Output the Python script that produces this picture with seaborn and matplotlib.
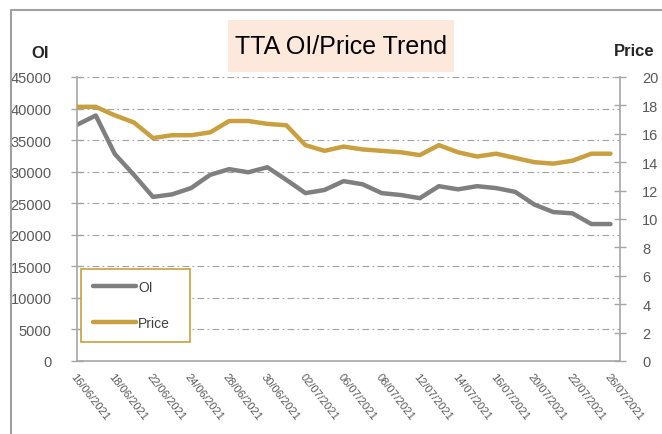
import pandas as pd
import matplotlib.pyplot as plt
import matplotlib.patches as mpatches
from matplotlib.lines import Line2D
import seaborn as sns

dates = ['16/06/2021', '17/06/2021', '18/06/2021', '21/06/2021', '22/06/2021', '23/06/2021',
         '24/06/2021', '25/06/2021', '28/06/2021', '29/06/2021', '30/06/2021', '01/07/2021',
         '02/07/2021', '05/07/2021', '06/07/2021', '07/07/2021', '08/07/2021', '09/07/2021',
         '12/07/2021', '13/07/2021', '14/07/2021', '15/07/2021', '16/07/2021', '19/07/2021',
         '20/07/2021', '21/07/2021', '22/07/2021', '23/07/2021', '26/07/2021']
oi = [37400, 38900, 32800, 29500, 26000, 26400, 27400, 29500, 30400, 29900, 30700, 28700,
      26600, 27100, 28500, 28000, 26600, 26300, 25800, 27700, 27200, 27700, 27400, 26800,
      24800, 23600, 23400, 21700, 21700]
price = [17.9, 17.9, 17.3, 16.8, 15.7, 15.9, 15.9, 16.1, 16.9, 16.9, 16.7, 16.6,
         15.2, 14.8, 15.1, 14.9, 14.8, 14.7, 14.5, 15.2, 14.7, 14.4, 14.6, 14.3,
         14.0, 13.9, 14.1, 14.6, 14.6]
oi_ticks = list(range(0, 45001, 5000))
price_ticks = list(range(0, 21, 2))

df = pd.DataFrame({'idx': range(len(dates)), 'date': dates, 'OI': oi, 'Price': price})

sns.set_style('white')
plt.rcParams['font.family'] = ['Liberation Sans', 'DejaVu Sans']

grey = '#7f7f7f'
gold = '#c9a040'
txt = '#595959'
axc = '#a6a6a6'

fig = plt.figure(figsize=(6.62, 4.35), dpi=100)
ax = fig.add_axes([76.7/662, 1-362/435, (620-76.7)/662, (362-78)/435])
ax2 = ax.twinx()

sns.lineplot(data=df, x='idx', y='OI', ax=ax, color=grey, linewidth=3.2, label='OI', legend=False)
sns.lineplot(data=df, x='idx', y='Price', ax=ax2, color=gold, linewidth=3.2, label='Price', legend=False)

ax.set_xlim(0, 28.5)
ax.set_ylim(0, 45000)
ax2.set_ylim(0, 20)
ax.set_yticks(oi_ticks)
ax.set_yticklabels([str(v) for v in oi_ticks], color=txt, fontsize=10.5)
ax2.set_yticks(price_ticks)
ax2.set_yticklabels([str(v) for v in price_ticks], color=txt, fontsize=10.5)
ax.set_xticks(range(len(dates)))
ax.set_xticklabels([d if i % 2 == 0 else '' for i, d in enumerate(dates)],
                   rotation=-52, ha='left', va='top', rotation_mode='anchor',
                   fontsize=8, color=txt)
ax.set_xlabel('')
ax.set_ylabel('')
ax2.set_ylabel('')

ax.tick_params(axis='y', direction='inout', length=8, width=1, color=axc, pad=14)
ax2.tick_params(axis='y', direction='inout', length=8, width=1, color=axc, pad=12)
ax.tick_params(axis='x', direction='out', length=4, width=1, color=axc, pad=3)

ax.yaxis.grid(True, color='#a0a0a0', linewidth=0.8, linestyle=(0, (6, 3, 1.5, 3)))
ax.xaxis.grid(False)
for s in ['top', 'right']:
    ax.spines[s].set_visible(False)
for s in ['top', 'left', 'bottom']:
    ax2.spines[s].set_visible(False)
for a, s in [(ax, 'left'), (ax, 'bottom'), (ax2, 'right')]:
    a.spines[s].set_color(axc)
    a.spines[s].set_linewidth(1.2)

handles = [Line2D([0], [0], color=grey, lw=3.2, solid_capstyle='round'),
           Line2D([0], [0], color=gold, lw=3.2, solid_capstyle='round')]
leg = ax2.legend(handles, ['OI', 'Price'], loc='lower left',
                 bbox_to_anchor=(0.0074, 0.068, 0.2011, 0.2535), mode='expand',
                 borderaxespad=0, fancybox=False, framealpha=1, edgecolor=gold,
                 fontsize=10, labelspacing=1.55, handlelength=3.1, handletextpad=0.2,
                 borderpad=0.85, labelcolor='#404040')
leg.get_frame().set_linewidth(1.2)

# title box and axis names
fig.patches.append(mpatches.Rectangle((228/662, 1-72.7/435), (454-228)/662, (72.7-21)/435,
                                      transform=fig.transFigure, facecolor='#fce9db',
                                      edgecolor='none', zorder=0))
fig.text(341/662, 1-47/435, 'TTA OI/Price Trend', ha='center', va='center',
         fontsize=18, color='black')
fig.text(40/662, 1-53/435, 'OI', ha='center', va='center', fontsize=12, fontweight='bold')
fig.text(634/662, 1-51/435, 'Price', ha='center', va='center', fontsize=12, fontweight='bold')

# outer chart border (top and left edges visible)
fig.lines.append(Line2D([11/662, 11/662, 1], [0, 1-11/435, 1-11/435],
                        transform=fig.transFigure, color='#a0a0a0', lw=1.5))

fig.savefig('out.png', dpi=100)
